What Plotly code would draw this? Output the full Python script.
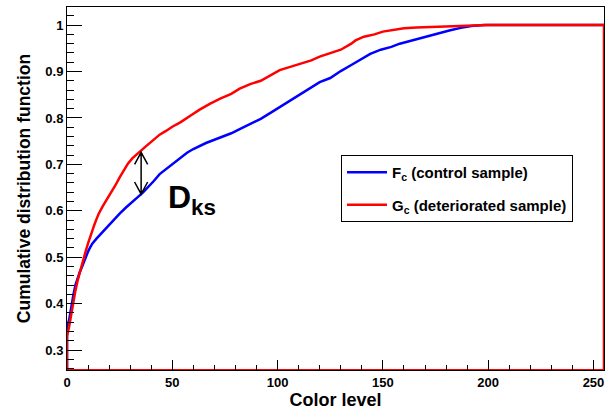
import plotly.graph_objects as go

# ---- data ----
color_level_G = [0, 0, 1, 2, 3, 4, 5, 6, 7, 8, 9, 10, 11, 12, 13, 14, 15, 17, 19, 21, 23, 25, 27, 29,
                 31, 33, 35, 38, 41, 44, 47, 50, 54, 57, 60, 63, 68, 73, 78, 82, 87, 92, 97, 101,
                 106, 111, 116, 120, 125, 130, 135, 137, 141, 146, 150, 155, 160, 166, 172, 180,
                 188, 200, 255, 255]
cdf_G = [0.0, 0.33, 0.35, 0.378, 0.405, 0.428, 0.449, 0.467, 0.485, 0.5, 0.515, 0.53, 0.545, 0.558,
         0.57, 0.582, 0.593, 0.61, 0.624, 0.64, 0.655, 0.672, 0.688, 0.702, 0.713, 0.72, 0.729,
         0.741, 0.752, 0.764, 0.772, 0.781, 0.791, 0.801, 0.809, 0.818, 0.831, 0.842, 0.852,
         0.863, 0.873, 0.880, 0.892, 0.903, 0.910, 0.917, 0.924, 0.932, 0.939, 0.947, 0.960,
         0.967, 0.975, 0.980, 0.986, 0.990, 0.993, 0.995, 0.996, 0.998, 0.999, 1.0, 1.0, 0.0]

color_level_F = [0, 0, 1, 2, 3, 4, 5, 6, 7, 8, 9, 10, 11, 12, 14, 16, 19, 22, 25, 28, 31, 34, 36, 38,
                 41, 44, 48, 51, 54, 57, 60, 63, 66, 70, 74, 78, 82, 87, 92, 97, 101, 106, 111,
                 116, 120, 125, 130, 135, 139, 144, 149, 154, 158, 163, 168, 172, 177, 182, 187,
                 192, 198, 255]
cdf_F = [0.0, 0.35, 0.365, 0.395, 0.418, 0.44, 0.455, 0.467, 0.478, 0.49, 0.502, 0.512, 0.521, 0.529,
         0.54, 0.55, 0.564, 0.579, 0.594, 0.607, 0.62, 0.631, 0.639, 0.648, 0.663, 0.679,
         0.693, 0.704, 0.715, 0.725, 0.733, 0.740, 0.746, 0.753, 0.760, 0.767, 0.776, 0.787,
         0.798, 0.812, 0.823, 0.837, 0.852, 0.866, 0.877, 0.886, 0.901, 0.914, 0.924, 0.938,
         0.947, 0.953, 0.960, 0.966, 0.973, 0.978, 0.984, 0.989, 0.994, 0.998, 1.0, 1.0]

x_tick_step = 50
y_tick_step = 0.1

# D_ks marker (position of maximal distance)
dks_x = 35.2
dks_top = 0.726
dks_bottom = 0.636

FONT = "Liberation Sans, Arial, sans-serif"

fig = go.Figure()
fig.add_trace(go.Scatter(x=color_level_F, y=cdf_F, mode="lines",
                         line=dict(color="#0000ff", width=2.5),
                         name="<b>F<sub>c</sub> (control sample)</b>", legendgroup="f"))
fig.add_trace(go.Scatter(x=color_level_G, y=cdf_G, mode="lines",
                         line=dict(color="#ff0000", width=2.5),
                         name="<b>G<sub>c</sub> (deteriorated sample)</b>", legendgroup="g"))

# double arrow for D_ks
ax_dx, ay_dy = 3.1, 0.026
arrow_path = (f"M {dks_x},{dks_top} L {dks_x},{dks_bottom} "
              f"M {dks_x-ax_dx},{dks_top-ay_dy} L {dks_x},{dks_top} L {dks_x+ax_dx},{dks_top-ay_dy} "
              f"M {dks_x-ax_dx},{dks_bottom+ay_dy} L {dks_x},{dks_bottom} L {dks_x+ax_dx},{dks_bottom+ay_dy}")
fig.add_shape(type="path", path=arrow_path, xref="x", yref="y",
              line=dict(color="black", width=1.5))
# histogram baseline in red along the bottom of the frame
fig.add_shape(type="line", xref="paper", yref="paper", x0=0, x1=1, y0=0, y1=0,
              line=dict(color="#ff0000", width=2), layer="below")

fig.add_annotation(x=47, y=0.625, xref="x", yref="y", xanchor="left", yanchor="middle",
                   text="<b>D<sub>ks</sub></b>", showarrow=False,
                   font=dict(family=FONT, size=32, color="black"))

fig.update_layout(
    width=605, height=410,
    margin=dict(l=67, r=1, t=7, b=40, autoexpand=False),
    paper_bgcolor="white", plot_bgcolor="white",
    font=dict(family=FONT, color="black"),
    showlegend=True,
    legend=dict(x=(341 - 67) / 537, y=1 - (155 - 7) / 363, xanchor="left", yanchor="top",
                bordercolor="black", borderwidth=1, bgcolor="white",
                font=dict(family=FONT, size=15, color="black"),
                tracegroupgap=10, itemwidth=40),
    xaxis=dict(range=[0, 255], showgrid=False, zeroline=False, automargin=False,
               showline=True, linecolor="black", linewidth=1, mirror=True,
               tick0=0, dtick=x_tick_step, ticks="inside", ticklen=10, tickwidth=1, tickcolor="black",
               tickfont=dict(family=FONT, size=13, weight="bold", color="black"),
               minor=dict(dtick=10, ticks="inside", ticklen=5, tickcolor="black"),
               title=dict(text="<b>Color level</b>", font=dict(family=FONT, size=18), standoff=6)),
    yaxis=dict(range=[0.257, 1.039], showgrid=False, zeroline=False, automargin=False,
               showline=True, linecolor="black", linewidth=1, mirror=True,
               tick0=0, dtick=y_tick_step, ticks="inside", ticklen=15, tickwidth=1, tickcolor="black",
               tickfont=dict(family=FONT, size=13, weight="bold", color="black"),
               minor=dict(dtick=0.02, ticks="inside", ticklen=7, tickcolor="black"),
               title=dict(text="<b>Cumulative distribution function</b>", font=dict(family=FONT, size=17.5),
                          standoff=10)),
)

fig.write_html("out.html", config={"displayModeBar": False},
               post_script="document.body.style.margin='0px';")
